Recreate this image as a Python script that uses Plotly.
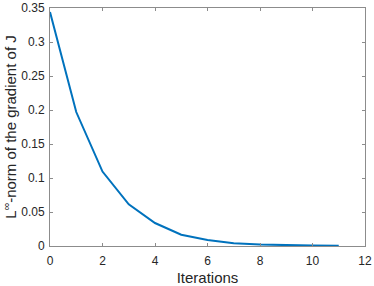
import plotly.graph_objects as go

iterations = [0, 1, 2, 3, 4, 5, 6, 7, 8, 9, 10, 11]
grad_norm = [0.344, 0.197, 0.1095, 0.0613, 0.0338, 0.0165, 0.0087, 0.0042, 0.0021, 0.0011, 0.0006, 0.0003]

x_ticks = [0, 2, 4, 6, 8, 10, 12]
y_ticks = [0, 0.05, 0.1, 0.15, 0.2, 0.25, 0.3, 0.35]
y_tick_text = ["0", "0.05", "0.1", "0.15", "0.2", "0.25", "0.3", "0.35"]

FONT = "Liberation Sans, Arial, Helvetica"

fig = go.Figure(go.Scatter(x=iterations, y=grad_norm, mode="lines",
                           line=dict(color="#0072BD", width=2)))

axis_common = dict(showline=True, linecolor="#8c8c8c", linewidth=1, mirror="ticks",
                   ticks="inside", ticklen=3, tickcolor="#8c8c8c", showgrid=False,
                   zeroline=False, automargin=False, ticklabeloverflow="allow",
                   tickfont=dict(family=FONT, size=12, color="#262626"))

fig.update_layout(
    width=374, height=286,
    margin=dict(l=50, r=8.5, t=8, b=40),
    paper_bgcolor="white", plot_bgcolor="white",
    showlegend=False,
    xaxis=dict(range=[0, 12], tickvals=x_ticks, ticktext=[str(v) for v in x_ticks],
               ticklabelstandoff=4,
               title=dict(text="Iterations", standoff=5,
                          font=dict(family=FONT, size=15, color="#262626")),
               **axis_common),
    yaxis=dict(range=[0, 0.35], tickvals=y_ticks, ticktext=y_tick_text,
               ticklabelstandoff=2,
               title=dict(text="L<sup>∞</sup>-norm of the gradient of J", standoff=5,
                          font=dict(family=FONT, size=15, color="#262626")),
               **axis_common),
)

fig.write_html("out.html", config={"displayModeBar": False},
               post_script="document.body.style.margin='0';document.body.style.overflow='hidden';")
